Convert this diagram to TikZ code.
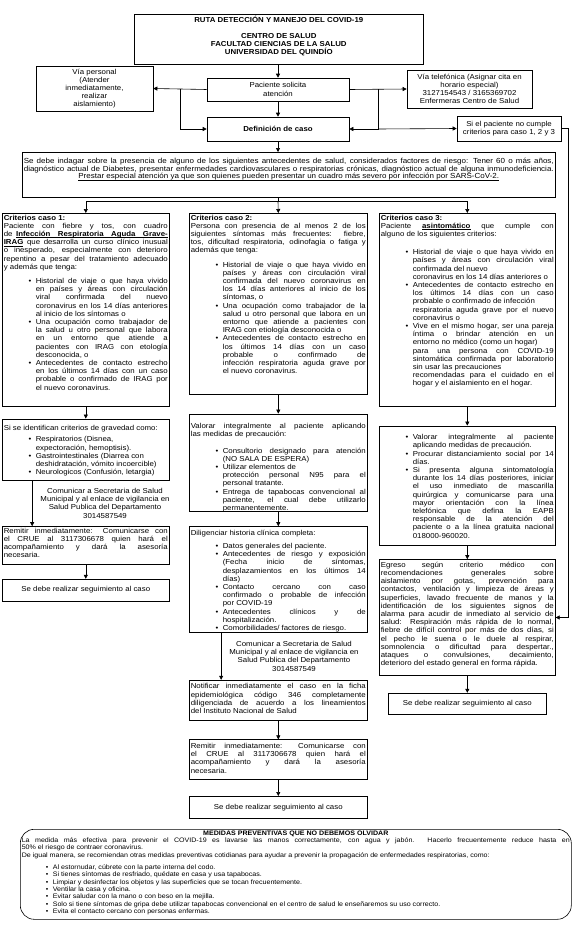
\documentclass[tikz,border=0pt]{standalone}
\usepackage{fontspec}
\setmainfont{Liberation Sans}[FakeStretch=1.09]
\usetikzlibrary{arrows.meta,positioning,calc}

\newcommand{\txtsz}{\fontsize{7.2}{8.2}\selectfont}
\newcommand{\indsz}{\fontsize{7.35}{7.8}\selectfont}
\newcommand{\medsz}{\fontsize{6.5}{7.3}\selectfont}
\hyphenpenalty=10000
\exhyphenpenalty=10000
% text set at the top of a box of fixed size: width, height, text
\newcommand{\boxtext}[3]{\begin{minipage}[c][#2][t]{#1}\txtsz\tolerance=9999\emergencystretch=3pt\relax #3\end{minipage}}
\newenvironment{pts}[1][32pt]{\begin{list}{\textbullet}{\setlength{\leftmargin}{#1}\setlength{\labelwidth}{5pt}\setlength{\labelsep}{4.5pt}\setlength{\itemsep}{0pt}\setlength{\parsep}{0pt}\setlength{\topsep}{0pt}\setlength{\partopsep}{0pt}}}{\end{list}}
% underlined word, and underlined space between such words
\newcommand{\ulw}[1]{\leavevmode{\setbox0\hbox{#1}\rlap{\vrule height -1pt depth 1.45pt width \wd0}\box0}}
\newcommand{\ulg}{\leaders\hrule height -1pt depth 1.45pt\hskip 0.28em plus 0.6em\relax}

\begin{document}
\begin{tikzpicture}[x=1pt,y=1pt,
  line width=0.6pt, >={Triangle[length=4pt,width=4pt]},
  textbox/.style={draw, inner sep=1.5pt, anchor=north west},
  smallbox/.style={draw, inner sep=1pt, align=center, font=\txtsz},
  note/.style={inner sep=0pt, align=center, font=\txtsz},
]
\fill[white] (0,0) rectangle (575,-926);
\useasboundingbox (0,0) rectangle (575,-926);

% heading and entry
\node[textbox] (title) at (134,-14) {\boxtext{286pt}{47pt}{\centering\bfseries RUTA DETECCIÓN Y MANEJO DEL COVID-19\\[8.2pt]CENTRO DE SALUD\\FACULTAD CIENCIAS DE LA SALUD\\UNIVERSIDAD DEL QUINDÍO\par}};
\node[smallbox, minimum width=142pt, minimum height=23pt] (pac) at (278,-89.5) {Paciente solicita\\atención};
\node[smallbox, minimum width=117pt, minimum height=45pt] (viaper) at (94.5,-88.5) {Vía personal\\(Atender\\inmediatamente,\\realizar\\aislamiento)};
\node[smallbox, minimum width=125pt, minimum height=38pt] (viatel) at (469.5,-89) {Vía telefónica (Asignar cita en\\horario especial)\\3127154543 / 3165369702\\Enfermeras Centro de Salud};
\node[smallbox, minimum width=142pt, minimum height=24pt, font=\txtsz\bfseries] (defc) at (278,-129) {Definición de caso};
\node[smallbox, minimum width=104pt, minimum height=25pt] (nocumple) at (509,-128.5) {Si el paciente no cumple\\criterios para caso 1, 2 y 3};
\node[textbox] (indag) at (22,-152) {\boxtext{530pt}{42pt}{\indsz\vspace*{4pt}{\parfillskip=0pt Se debe indagar sobre la presencia de alguno de los siguientes antecedentes de salud, considerados factores de riesgo: Tener 60 o más años,\linebreak diagnóstico actual de Diabetes, presentar enfermedades cardiovasculares o respiratorias crónicas, diagnóstico actual de alguna inmunodeficiencia.\par}
{\centering\ulw{Prestar especial atención ya que son quienes pueden presentar un cuadro más severo por infección por SARS-CoV-2.}\par}}};

% case 1
\node[textbox] (crit1) at (2,-213) {\boxtext{164pt}{190pt}{\textbf{Criterios caso 1:}\\
Paciente con fiebre y tos, con cuadro\linebreak
de \textbf{\ulw{Infección}\ulg\ulw{Respiratoria}\ulg\ulw{Aguda}\ulg\ulw{Grave-}}\linebreak
\textbf{\ulw{IRAG}} que desarrolla un curso clínico inusual\linebreak
o inesperado, especialmente con deterioro\linebreak
repentino a pesar del tratamiento adecuado\linebreak
y además que tenga:\par\vspace{6pt}
\begin{pts}
\item Historial de viaje o que haya vivido\linebreak en países y áreas con circulación\linebreak viral confirmada del nuevo\linebreak coronavirus en los 14 días anteriores\linebreak al inicio de los síntomas o
\item Una ocupación como trabajador de\linebreak la salud u otro personal que labora\linebreak en un entorno que atiende a\linebreak pacientes con IRAG con etología\linebreak desconocida, o
\item Antecedentes de contacto estrecho\linebreak en los últimos 14 días con un caso\linebreak probable o confirmado de IRAG por\linebreak el nuevo coronavirus.
\end{pts}}};
\node[textbox, below=12pt of crit1] (grav) {\boxtext{164pt}{58pt}{\vspace*{5pt}Si se identifican criterios de gravedad como:\par\vspace{3pt}
\begin{pts}
\item Respiratorios (Disnea,\\expectoración, hemoptisis).
\item Gastrointestinales (Diarrea con\\deshidratación, vómito incoercible)
\item Neurologicos (Confusión, letargia)
\end{pts}}};
\node[textbox, below=46pt of grav] (remit1) {\boxtext{164pt}{35pt}{Remitir inmediatamente: Comunicarse con\linebreak el CRUE al 3117306678 quien hará el\linebreak acompañamiento y dará la asesoría\linebreak necesaria.}};
\node[smallbox, minimum width=167pt, minimum height=22pt, below=14pt of remit1] (seg1) {Se debe realizar seguimiento al caso};

% case 2
\node[textbox] (crit2) at (189,-213) {\boxtext{175pt}{178pt}{\textbf{Criterios caso 2:}\\
Persona con presencia de al menos 2 de los\linebreak
siguientes síntomas más frecuentes: fiebre,\linebreak
tos, dificultad respiratoria, odinofagia o fatiga y\linebreak
además que tenga:\par\vspace{6pt}
\begin{pts}
\item Historial de viaje o que haya vivido en\linebreak países y áreas con circulación viral\linebreak confirmada del nuevo coronavirus en\linebreak los 14 días anteriores al inicio de los\linebreak síntomas, o
\item Una ocupación como trabajador de la\linebreak salud u otro personal que labora en un\linebreak entorno que atiende a pacientes con\linebreak IRAG con etiología desconocida o
\item Antecedentes de contacto estrecho en\linebreak los últimos 14 días con un caso\linebreak probable o confirmado de\linebreak infección respiratoria aguda grave por\linebreak el nuevo coronavirus.
\end{pts}}};
\node[textbox, below=19pt of crit2] (val2) {\boxtext{175pt}{94pt}{\vspace*{8pt}Valorar integralmente al paciente aplicando\linebreak las medidas de precaución:\par\vspace{8pt}
\begin{pts}
\item Consultorio designado para atención\linebreak (NO SALA DE ESPERA)
\item Utilizar elementos de\\protección personal N95 para el\linebreak personal tratante.
\item Entrega de tapabocas convencional al\linebreak paciente, el cual debe utilizarlo\linebreak permanentemente.
\end{pts}}};
\node[textbox, below=15pt of val2] (dilig) {\boxtext{175pt}{103pt}{\vspace*{2pt}Diligenciar historia clínica completa:\par\vspace{5pt}
\begin{pts}
\item Datos generales del paciente.
\item Antecedentes de riesgo y exposición\linebreak (Fecha inicio de síntomas,\linebreak desplazamientos en los últimos 14\linebreak días)
\item Contacto cercano con caso\linebreak confirmado o probable de infección\linebreak por COVID-19
\item Antecedentes clínicos y de\linebreak hospitalización.
\item Comorbilidades/ factores de riesgo.
\end{pts}}};
\node[textbox, below=47pt of dilig] (notif) {\boxtext{175pt}{37pt}{\vspace*{2pt}Notificar inmediatamente el caso en la ficha\linebreak epidemiológica código 346 completamente\linebreak diligenciada de acuerdo a los lineamientos\linebreak del Instituto Nacional de Salud}};
\node[textbox, below=19pt of notif] (remit2) {\boxtext{175pt}{37pt}{\vspace*{2pt}Remitir inmediatamente: Comunicarse con\linebreak el CRUE al 3117306678 quien hará el\linebreak acompañamiento y dará la asesoría\linebreak necesaria.}};
\node[smallbox, minimum width=178pt, minimum height=22pt, below=16pt of remit2] (seg2) {Se debe realizar seguimiento al caso};

% case 3
\node[textbox] (crit3) at (379,-213) {\boxtext{173pt}{190pt}{\textbf{Criterios caso 3:}\\
Paciente \textbf{\ulw{asintomático}} que cumple con\linebreak
alguno de los siguientes criterios:\par\vspace{10pt}
\begin{pts}
\item Historial de viaje o que haya vivido en\linebreak países y áreas con circulación viral\linebreak confirmada del nuevo\\coronavirus en los 14 días anteriores o
\item Antecedentes de contacto estrecho en\linebreak los últimos 14 días con un caso\linebreak probable o confirmado de infección\\respiratoria aguda grave por el nuevo\linebreak coronavirus o
\item Vive en el mismo hogar, ser una pareja\linebreak íntima o brindar atención en un\linebreak entorno no médico (como un hogar)\\para una persona con COVID-19\linebreak sintomática confirmada por laboratorio\linebreak sin usar las precauciones\\recomendadas para el cuidado en el\linebreak hogar y el aislamiento en el hogar.
\end{pts}}};
\node[textbox, below=19pt of crit3] (val3) {\boxtext{173pt}{116pt}{\vspace*{7pt}
\begin{pts}
\item Valorar integralmente al paciente\linebreak aplicando medidas de precaución.
\item Procurar distanciamiento social por 14\linebreak días.
\item Si presenta alguna sintomatología\linebreak durante los 14 días posteriores, iniciar\linebreak el uso inmediato de mascarilla\linebreak quirúrgica y comunicarse para una\linebreak mayor orientación con la línea\linebreak telefónica que defina la EAPB\linebreak responsable de la atención del\linebreak paciente o a la línea gratuita nacional\linebreak 018000-960020.
\end{pts}}};
\node[textbox, below=14pt of val3] (egreso) {\boxtext{173pt}{113pt}{\vspace*{1pt}Egreso según criterio médico con\linebreak recomendaciones generales sobre\linebreak aislamiento por gotas, prevención para\linebreak contactos, ventilación y limpieza de áreas y\linebreak superficies, lavado frecuente de manos y la\linebreak identificación de los siguientes signos de\linebreak alarma para acudir de inmediato al servicio de\linebreak salud: Respiración más rápida de lo normal,\linebreak fiebre de difícil control por más de dos días, si\linebreak el pecho le suena o le duele al respirar,\linebreak somnolencia o dificultad para despertar.,\linebreak ataques o convulsiones, decaimiento,\linebreak deterioro del estado general en forma rápida.}};
\node[smallbox, minimum width=158pt, minimum height=21pt, below=17pt of egreso] (seg3) {Se debe realizar seguimiento al caso};

% preventive measures
\node[textbox, rounded corners=14pt] (medidas) at (20,-829) {\boxtext{548pt}{87pt}{\medsz{\centering\textbf{MEDIDAS PREVENTIVAS QUE NO DEBEMOS OLVIDAR}\par}
La medida más efectiva para prevenir el COVID-19 es lavarse las manos correctamente, con agua y jabón. Hacerlo frecuentemente reduce hasta en\linebreak 50\% el riesgo de contraer coronavirus.\par
De igual manera, se recomiendan otras medidas preventivas cotidianas para ayudar a prevenir la propagación de enfermedades respiratorias, como:\par\vspace{5pt}
\begin{pts}[31pt]
\item Al estornudar, cúbrete con la parte interna del codo.
\item Si tienes síntomas de resfriado, quédate en casa y usa tapabocas.
\item Limpiar y desinfectar los objetos y las superficies que se tocan frecuentemente.
\item Ventilar la casa y oficina.
\item Evitar saludar con la mano o con beso en la mejilla.
\item Solo si tiene síntomas de gripa debe utilizar tapabocas convencional en el centro de salud le enseñaremos su uso correcto.
\item Evita el contacto cercano con personas enfermas.
\end{pts}}};

% entry connectors
\draw[->] (title.south -| pac.north) -- (pac.north);
\draw[->] (pac.west) -- (viaper.east);
\draw[->] (pac.east) -- (viatel.west);
\draw[->] ($(pac.west)!0.5!(viaper.east)$) |- (defc.west);
\draw[->] ($(pac.east)!0.5!(viatel.west)$) coordinate (rb) |- (defc.east);
\draw[->] (rb |- defc.east) -- (nocumple.west);
\draw[->] (pac) -- (defc);
\draw[->] (nocumple.east) -- ++(7,0) |- (egreso.east);
\draw[->] (defc.south) -- (defc.south |- indag.north);
% split to the three cases
\draw (defc.south |- indag.south) -- ++(0,-4) coordinate (split);
\draw[->] (split) -| (crit1.north);
\draw[->] (split) -- (crit2.north);
\draw[->] (split) -| (crit3.north);

% case 1 flow
\draw[->] (crit1) -- (grav);
\draw[->] ($(grav.south west)!0.18!(grav.south east)$) coordinate (c1) -- (c1 |- remit1.north);
\node[note, anchor=west] (com1) at ($(c1)!0.5!(c1 |- remit1.north)+(8,0)$) {Comunicar a Secretaria de Salud\\Municipal y al enlace de vigilancia en\\Salud Publica del Departamento\\3014587549};
\draw[->] (remit1) -- (seg1);

% case 2 flow
\draw[->] (crit2) -- (val2);
\draw[->] (val2) -- (dilig);
\draw[->] ($(dilig.south west)!0.18!(dilig.south east)$) coordinate (c2) -- (c2 |- notif.north);
\node[note, anchor=west] (com2) at ($(c2)!0.5!(c2 |- notif.north)+(8,0)$) {Comunicar a Secretaria de Salud\\Municipal y al enlace de vigilancia en\\Salud Publica del Departamento\\3014587549};
\draw[->] (notif) -- (remit2);
\draw[->] (remit2) -- (seg2);

% case 3 flow
\draw[->] (crit3) -- (val3);
\draw[->] (val3) -- (egreso);
\draw[->] (egreso) -- (seg3);
\end{tikzpicture}
\end{document}
